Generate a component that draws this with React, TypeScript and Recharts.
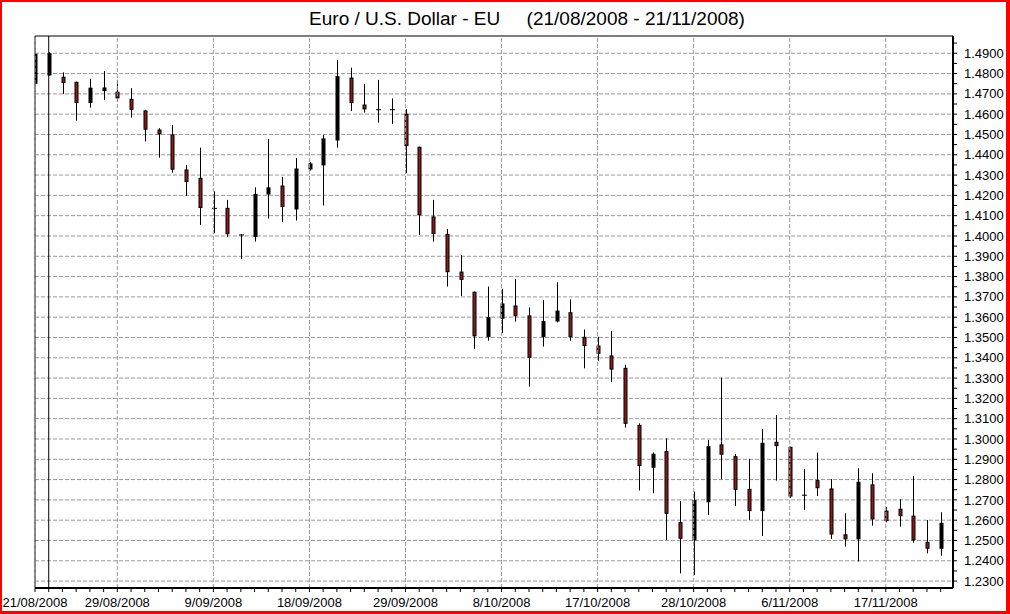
import React from 'react';
import { ComposedChart, Bar, XAxis, YAxis, CartesianGrid, ReferenceLine, ReferenceArea } from 'recharts';

const dates = [
  '21/08/2008', '22/08/2008', '25/08/2008', '26/08/2008', '27/08/2008', '28/08/2008', '29/08/2008',
  '1/09/2008', '2/09/2008', '3/09/2008', '4/09/2008', '5/09/2008',
  '8/09/2008', '9/09/2008', '10/09/2008', '11/09/2008', '12/09/2008',
  '15/09/2008', '16/09/2008', '17/09/2008', '18/09/2008', '19/09/2008',
  '22/09/2008', '23/09/2008', '24/09/2008', '25/09/2008', '26/09/2008',
  '29/09/2008', '30/09/2008', '1/10/2008', '2/10/2008', '3/10/2008',
  '6/10/2008', '7/10/2008', '8/10/2008', '9/10/2008', '10/10/2008',
  '13/10/2008', '14/10/2008', '15/10/2008', '16/10/2008', '17/10/2008',
  '20/10/2008', '21/10/2008', '22/10/2008', '23/10/2008', '24/10/2008',
  '27/10/2008', '28/10/2008', '29/10/2008', '30/10/2008', '31/10/2008',
  '3/11/2008', '4/11/2008', '5/11/2008', '6/11/2008', '7/11/2008',
  '10/11/2008', '11/11/2008', '12/11/2008', '13/11/2008', '14/11/2008',
  '17/11/2008', '18/11/2008', '19/11/2008', '20/11/2008', '21/11/2008',
];

const openV = [
  1.4752, 1.4793, 1.4782, 1.4757, 1.4657, 1.4716, 1.4708, 1.4673, 1.4616, 1.4522,
  1.4498, 1.4325, 1.4284, 1.4136, 1.4136, 1.4005, 1.3998, 1.4207, 1.4246, 1.4133,
  1.4330, 1.4350, 1.4473, 1.4778, 1.4645, 1.4622, 1.4617, 1.4600, 1.4437, 1.4094,
  1.4008, 1.3822, 1.3723, 1.3504, 1.3595, 1.3655, 1.3606, 1.3504, 1.3581, 1.3622,
  1.3501, 1.3458, 1.3409, 1.3348, 1.3067, 1.2861, 1.2938, 1.2588, 1.2503, 1.2691,
  1.2971, 1.2913, 1.2752, 1.2647, 1.2984, 1.2959, 1.2723, 1.2795, 1.2754, 1.2528,
  1.2508, 1.2774, 1.2645, 1.2654, 1.2620, 1.2491, 1.2462,
];
const highV = [
  1.4900, 1.4905, 1.4806, 1.4760, 1.4774, 1.4813, 1.4769, 1.4728, 1.4621, 1.4531,
  1.4547, 1.4350, 1.4435, 1.4219, 1.4178, 1.4010, 1.4240, 1.4478, 1.4291, 1.4384,
  1.4365, 1.4498, 1.4867, 1.4829, 1.4749, 1.4769, 1.4678, 1.4626, 1.4440, 1.4178,
  1.4035, 1.3906, 1.3726, 1.3751, 1.3740, 1.3788, 1.3648, 1.3685, 1.3772, 1.3688,
  1.3539, 1.3504, 1.3532, 1.3365, 1.3077, 1.2934, 1.3003, 1.2695, 1.2741, 1.2995,
  1.3302, 1.2926, 1.2902, 1.3049, 1.3118, 1.2962, 1.2852, 1.2933, 1.2803, 1.2634,
  1.2856, 1.2831, 1.2665, 1.2703, 1.2818, 1.2601, 1.2639,
];
const lowV = [
  1.4752, 1.4790, 1.4700, 1.4568, 1.4632, 1.4670, 1.4662, 1.4583, 1.4465, 1.4386,
  1.4312, 1.4197, 1.4054, 1.4013, 1.3994, 1.3887, 1.3972, 1.4086, 1.4069, 1.4076,
  1.4322, 1.4150, 1.4435, 1.4616, 1.4608, 1.4558, 1.4552, 1.4309, 1.4005, 1.3972,
  1.3751, 1.3704, 1.3444, 1.3484, 1.3521, 1.3578, 1.3258, 1.3455, 1.3574, 1.3484,
  1.3348, 1.3386, 1.3280, 1.3056, 1.2746, 1.2733, 1.2503, 1.2338, 1.2330, 1.2626,
  1.2801, 1.2670, 1.2601, 1.2522, 1.2795, 1.2710, 1.2650, 1.2719, 1.2508, 1.2470,
  1.2396, 1.2573, 1.2590, 1.2568, 1.2489, 1.2437, 1.2425,
];
const closeV = [
  1.4895, 1.4898, 1.4756, 1.4657, 1.4728, 1.4729, 1.4680, 1.4624, 1.4526, 1.4503,
  1.4329, 1.4268, 1.4140, 1.4134, 1.4011, 1.4000, 1.4205, 1.4237, 1.4145, 1.4330,
  1.4355, 1.4478, 1.4785, 1.4657, 1.4626, 1.4615, 1.4622, 1.4445, 1.4104, 1.4012,
  1.3824, 1.3786, 1.3508, 1.3598, 1.3665, 1.3607, 1.3402, 1.3578, 1.3630, 1.3504,
  1.3460, 1.3422, 1.3344, 1.3077, 1.2869, 1.2925, 1.2634, 1.2511, 1.2697, 1.2962,
  1.2925, 1.2752, 1.2647, 1.2979, 1.2967, 1.2719, 1.2722, 1.2760, 1.2532, 1.2508,
  1.2787, 1.2606, 1.2598, 1.2622, 1.2503, 1.2462, 1.2585,
];

const xTickLabels = [
  '21/08/2008', '29/08/2008', '9/09/2008', '18/09/2008', '29/09/2008',
  '8/10/2008', '17/10/2008', '28/10/2008', '6/11/2008', '17/11/2008',
];
const yTickLabels = [
  '1.2300', '1.2400', '1.2500', '1.2600', '1.2700', '1.2800', '1.2900', '1.3000', '1.3100',
  '1.3200', '1.3300', '1.3400', '1.3500', '1.3600', '1.3700', '1.3800', '1.3900', '1.4000',
  '1.4100', '1.4200', '1.4300', '1.4400', '1.4500', '1.4600', '1.4700', '1.4800', '1.4900',
];

const TITLE = 'Euro / U.S. Dollar - EU     (21/08/2008 - 21/11/2008)';
const MARKER_INDEX = 1;

const Y_MIN = 1.2266;
const Y_MAX = 1.4985;
const X_MAX = 66.9;
const FONT = '"Liberation Sans", Arial, sans-serif';
const RED = '#8e1b1b';

const data = dates.map((d, i) => ({
  i,
  date: d,
  o: openV[i],
  h: highV[i],
  l: lowV[i],
  c: closeV[i],
}));

const labelIndex = xTickLabels.map((l) => dates.indexOf(l));
const labelMap = new Map<number, string>();
xTickLabels.forEach((l, k) => labelMap.set(labelIndex[k], l));

const yMajor = yTickLabels.map(Number);
const yAllTicks: number[] = [];
yMajor.forEach((v) => {
  yAllTicks.push(v);
  const half = +(v + 0.005).toFixed(4);
  if (half < Y_MAX) yAllTicks.push(half);
});
const yLabelMap = new Map<number, string>();
yTickLabels.forEach((l, k) => yLabelMap.set(yMajor[k], l));

const xAllTicks = data.map((d) => d.i);

const Candle = (props: any) => {
  const { x, y, width, height, payload } = props;
  if (x == null || y == null || !payload) return <g />;
  const { o, h, l, c } = payload;
  const top0 = Math.min(y, y + height);
  const full = Math.abs(height);
  const cx = Math.round(x + width / 2) + 0.5;
  const span = h - l || 1;
  const toY = (v: number) => top0 + ((h - v) / span) * full;
  const bTop = toY(Math.max(o, c));
  const bBot = toY(Math.min(o, c));
  const up = c >= o;
  return (
    <g>
      <line x1={cx} x2={cx} y1={top0} y2={top0 + full} stroke="#000" strokeWidth={1} />
      {bBot - bTop < 1.5 ? (
        <line x1={cx - 2.5} x2={cx + 2.5} y1={bTop} y2={bTop} stroke="#000" strokeWidth={1} />
      ) : (
        <rect
          x={cx - 1.5}
          y={bTop}
          width={3}
          height={bBot - bTop}
          fill={up ? '#000' : RED}
          stroke="#000"
          strokeWidth={1}
        />
      )}
    </g>
  );
};

const XTick = (props: any) => {
  const { x, y, payload } = props;
  const label = labelMap.get(payload.value);
  if (!label) return <g />;
  return (
    <text x={x} y={y} dy="0.71em" textAnchor="middle" fontSize={13} fontFamily={FONT} fill="#000">
      {label}
    </text>
  );
};

const YTick = (props: any) => {
  const { x, y, payload } = props;
  const label = yLabelMap.get(+(+payload.value).toFixed(4));
  if (!label) return <g />;
  return (
    <text x={x} y={y} dy="0.355em" textAnchor="start" fontSize={13} fontFamily={FONT} fill="#000">
      {label}
    </text>
  );
};

export default function App() {
  return (
    <div style={{ position: 'absolute', left: 0, top: 0, width: 1010, height: 614, background: '#fff', overflow: 'hidden' }}>
      <div
        style={{
          position: 'absolute',
          left: 527,
          top: 8,
          transform: 'translateX(-50%)',
          whiteSpace: 'pre',
          fontFamily: FONT,
          fontSize: 19,
          lineHeight: '22px',
          color: '#000',
        }}
      >
        {TITLE}
      </div>
      <ComposedChart
        width={1010}
        height={614}
        data={data}
        margin={{ top: 36, left: 35, right: 0, bottom: 0 }}
        style={{ position: 'absolute', left: 0, top: 0 }}
      >
        <CartesianGrid
          vertical={false}
          horizontalValues={yMajor}
          stroke="#9a9a9a"
          strokeDasharray="4 2"
        />
        <XAxis
          dataKey="i"
          type="number"
          domain={[0, X_MAX]}
          allowDataOverflow
          ticks={xAllTicks}
          interval={0}
          tick={XTick}
          tickSize={4}
          tickMargin={6}
          tickLine={{ stroke: '#000' }}
          axisLine={{ stroke: '#000', strokeWidth: 2 }}
          height={26}
        />
        <YAxis
          orientation="right"
          type="number"
          domain={[Y_MIN, Y_MAX]}
          allowDataOverflow
          ticks={yAllTicks}
          interval={0}
          tick={YTick}
          tickSize={4}
          tickMargin={7}
          tickLine={{ stroke: '#000' }}
          axisLine={{ stroke: '#000', strokeWidth: 2 }}
          width={57}
        />
        <Bar
          dataKey={(d: any) => [d.l, d.h]}
          barSize={6}
          shape={Candle}
          isAnimationActive={false}
        />
        {labelIndex.map((idx) => (
          <ReferenceLine key={'v' + idx} x={idx} stroke="#9a9a9a" strokeDasharray="4 2" />
        ))}
        <ReferenceLine x={MARKER_INDEX} stroke="#000" strokeWidth={1} />
        <ReferenceArea x1={0} x2={X_MAX} y1={Y_MIN} y2={Y_MAX} fill="none" fillOpacity={0} stroke="#000" strokeWidth={1} />
      </ComposedChart>
      <div
        style={{
          position: 'absolute',
          left: 0,
          top: 0,
          width: 1010,
          height: 614,
          boxSizing: 'border-box',
          borderStyle: 'solid',
          borderColor: '#ff0000',
          borderWidth: '2px 4px 3px 2px',
          pointerEvents: 'none',
        }}
      />
    </div>
  );
}
